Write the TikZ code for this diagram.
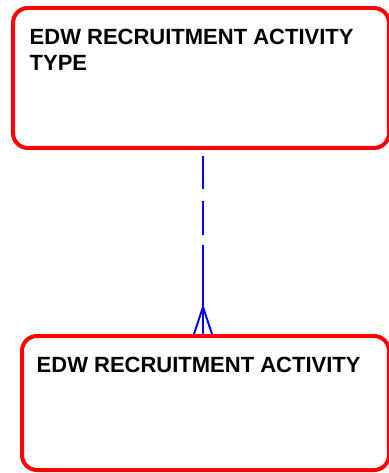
\documentclass[tikz,border=0pt]{standalone}
\usepackage{fontspec}
\setmainfont{Liberation Sans}
\usetikzlibrary{arrows}

\begin{document}
\begin{tikzpicture}[x=1pt,y=-1pt]
  \tikzstyle{entity}=[rectangle,draw=red,line width=4pt,rounded corners=15pt,anchor=north west,inner sep=0pt]
  \tikzstyle{title}=[anchor=north west,inner sep=0pt,align=left,font=\bfseries\fontsize{22}{26}\selectfont]
  \tikzstyle{relation}=[draw=blue,line width=2pt]

  \useasboundingbox (0,0) rectangle (388,473);

  \node[entity,minimum width=376pt,minimum height=140pt] (typebox)     at (11,6)   {};
  \node[entity,minimum width=367pt,minimum height=134pt] (activitybox) at (20,334) {};

  \node[title] (typetitle)     at (29.5,29)  {EDW RECRUITMENT ACTIVITY\\TYPE};
  \node[title] (activitytitle) at (36.5,357) {EDW RECRUITMENT ACTIVITY};

  % one to many
  \coordinate (crow) at ([xshift=-2.5pt,yshift=27pt]activitybox.north);
  \draw[relation,dash pattern=on 33pt off 12pt on 34pt off 10pt on 200pt]
        ([xshift=2pt,yshift=-6pt]typebox.south) -- ([xshift=-2.5pt]activitybox.north);
  \draw[relation] ([xshift=-11.5pt]activitybox.north) -- (crow)
                  -- ([xshift=6.5pt]activitybox.north);
\end{tikzpicture}
\end{document}
